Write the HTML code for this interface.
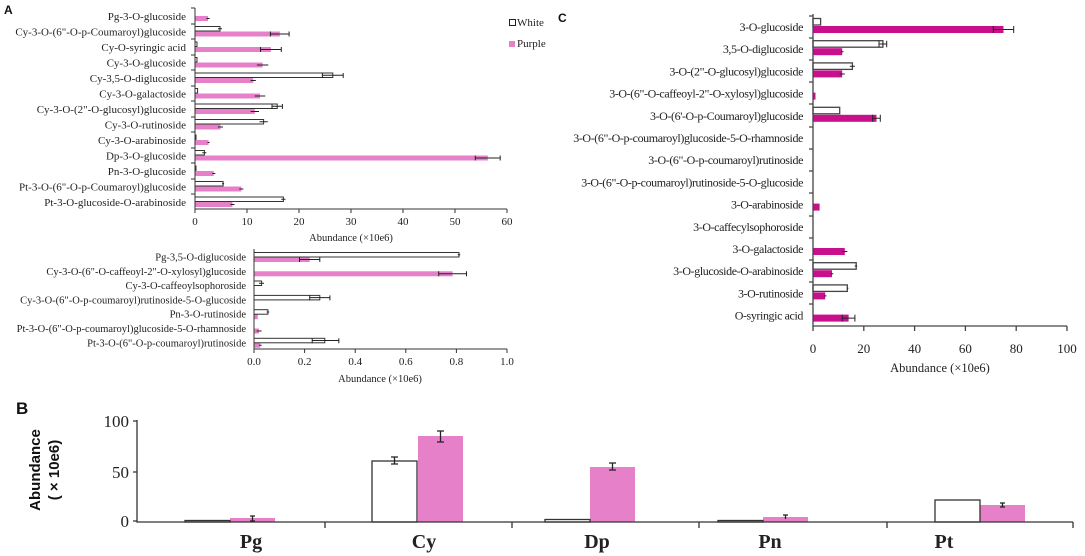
<!DOCTYPE html>
<html><head><meta charset="utf-8"><style>
body{margin:0;background:#fff}
svg{display:block}
.l{font-family:"Liberation Serif",serif;fill:#222}
.s{font-family:"Liberation Sans",sans-serif;font-weight:bold;fill:#111}
</style></head><body>
<svg width="1085" height="556" viewBox="0 0 1085 556" xmlns="http://www.w3.org/2000/svg">
<text x="4" y="14" class="s" font-size="12">A</text>
<g fill="#e680c8">
<rect x="195" y="16" width="13" height="5"/>
<rect x="195" y="31.5" width="84.8" height="5"/>
<rect x="195" y="47" width="75.9" height="5"/>
<rect x="195" y="62.5" width="67.6" height="5"/>
<rect x="195" y="78" width="58.2" height="5"/>
<rect x="195" y="93.5" width="65" height="5"/>
<rect x="195" y="109" width="59.8" height="5"/>
<rect x="195" y="124.5" width="25.5" height="5"/>
<rect x="195" y="140" width="13.5" height="5"/>
<rect x="195" y="155.5" width="292.8" height="5"/>
<rect x="195" y="171" width="18.7" height="5"/>
<rect x="195" y="186.5" width="46.3" height="5"/>
<rect x="195" y="202" width="37.4" height="5"/>
</g>
<g fill="#fff" stroke="#333" stroke-width="1">
<rect x="195" y="26.5" width="25" height="4.5"/>
<rect x="195" y="42" width="2" height="4.5"/>
<rect x="195" y="57.5" width="2" height="4.5"/>
<rect x="195" y="73" width="137.8" height="4.5"/>
<rect x="195" y="88.5" width="2.6" height="4.5"/>
<rect x="195" y="104" width="82.2" height="4.5"/>
<rect x="195" y="119.5" width="68.6" height="4.5"/>
<rect x="195" y="135" width="1" height="4.5"/>
<rect x="195" y="150.5" width="9.4" height="4.5"/>
<rect x="195" y="166" width="1" height="4.5"/>
<rect x="195" y="181.5" width="28.1" height="4.5"/>
<rect x="195" y="197" width="88.4" height="4.5"/>
</g>
<g stroke="#222" stroke-width="1">
<path d="M206.4 18.5H209.6M217.9 28.7H222M270.4 34H289.1M260.5 49.5H281.3M256.9 65H268.3M322.4 75.2H343.2M250.6 80.5H255.8M254.8 96H265.2M272 106.2H282.4M250.6 111.5H259M259.5 121.7H267.8M217.9 127H223M207.5 142.5H209.6M202.3 152.7H206.4M475.3 158H500.2M212.2 173.5H215.3M222 183.7H224.1M239.2 189H243.4M281.3 199.2H285.5M230.4 204.5H234.5"/>
<path d="M270.4 31.5v5M289.1 31.5v5M260.5 47v5M281.3 47v5M322.4 73v5M343.2 73v5M475.3 155.5v5M500.2 155.5v5M272 104v5M282.4 104v5"/>
</g>
<g stroke="#333" fill="none">
<path d="M195 8V209H507"/>
<path d="M191 8H195M191 24H195M191 39H195M191 55H195M191 70H195M191 86H195M191 101H195M191 117H195M191 132H195M191 148H195M191 163H195M191 179H195M191 194H195"/>
<path d="M195 209v4M247 209v4M299 209v4M351 209v4M403 209v4M455 209v4M507 209v4"/>
</g>
<g class="l" font-size="11" text-anchor="end">
<text x="186" y="20">Pg-3-O-glucoside</text>
<text x="186" y="35.5">Cy-3-O-(6"-O-p-Coumaroyl)glucoside</text>
<text x="186" y="51">Cy-O-syringic acid</text>
<text x="186" y="66.5">Cy-3-O-glucoside</text>
<text x="186" y="82">Cy-3,5-O-diglucoside</text>
<text x="186" y="97.5">Cy-3-O-galactoside</text>
<text x="186" y="113">Cy-3-O-(2"-O-glucosyl)glucoside</text>
<text x="186" y="128.5">Cy-3-O-rutinoside</text>
<text x="186" y="144">Cy-3-O-arabinoside</text>
<text x="186" y="159.5">Dp-3-O-glucoside</text>
<text x="186" y="175">Pn-3-O-glucoside</text>
<text x="186" y="190.5">Pt-3-O-(6"-O-p-Coumaroyl)glucoside</text>
<text x="186" y="206">Pt-3-O-glucoside-O-arabinoside</text>
</g>
<g class="l" font-size="11" text-anchor="middle">
<text x="195" y="225">0</text><text x="247" y="225">10</text><text x="299" y="225">20</text><text x="351" y="225">30</text><text x="403" y="225">40</text><text x="455" y="225">50</text><text x="507" y="225">60</text>
</g>
<text x="351" y="241" class="l" font-size="10.5" text-anchor="middle" fill="#555">Abundance (×10e6)</text>
<rect x="509.5" y="19.5" width="6" height="6" fill="#fff" stroke="#222"/>
<text x="517" y="26" class="l" font-size="11">White</text>
<rect x="509" y="41" width="6" height="6" fill="#e680c8"/>
<text x="517" y="47" class="l" font-size="11">Purple</text>

<g fill="#e680c8">
<rect x="254" y="257" width="55.7" height="5"/>
<rect x="254" y="271.3" width="198.6" height="5"/>
<rect x="254" y="314.2" width="3.8" height="5"/>
<rect x="254" y="328.5" width="5" height="5"/>
<rect x="254" y="342.8" width="6.3" height="5"/>
</g>
<g fill="#fff" stroke="#333">
<rect x="254" y="252.5" width="205" height="4.5"/>
<rect x="254" y="281" width="7.6" height="4.5"/>
<rect x="254" y="295.4" width="65.8" height="4.5"/>
<rect x="254" y="309.7" width="13.9" height="4.5"/>
<rect x="254" y="338.3" width="70.8" height="4.5"/>
</g>
<g stroke="#222">
<path d="M457.7 254.7H460.3M299.5 259.5H319.8M438.7 273.8H466.5M259 283.2H264M309.7 297.6H329.9M266.6 312H269.2M256.5 331H261.6M312.2 340.5H338.8M259 345.3H261.6"/>
<path d="M299.5 257v5M319.8 257v5M438.7 271.3v5M466.5 271.3v5M309.7 295.4v5M329.9 295.4v5M312.2 338.3v5M338.8 338.3v5"/>
</g>
<g stroke="#333" fill="none">
<path d="M254 249V349H507"/>
<path d="M254 349v4M304.6 349v4M355.2 349v4M405.8 349v4M456.4 349v4M507 349v4"/>
</g>
<g class="l" font-size="10.5" text-anchor="end">
<text x="246" y="260.5">Pg-3,5-O-diglucoside</text>
<text x="246" y="274.8">Cy-3-O-(6"-O-caffeoyl-2"-O-xylosyl)glucoside</text>
<text x="246" y="289.1">Cy-3-O-caffeoylsophoroside</text>
<text x="246" y="303.4">Cy-3-O-(6"-O-p-coumaroyl)rutinoside-5-O-glucoside</text>
<text x="246" y="317.7">Pn-3-O-rutinoside</text>
<text x="246" y="332">Pt-3-O-(6"-O-p-coumaroyl)glucoside-5-O-rhamnoside</text>
<text x="246" y="346.3">Pt-3-O-(6"-O-p-coumaroyl)rutinoside</text>
</g>
<g class="l" font-size="11" text-anchor="middle">
<text x="254" y="365">0.0</text><text x="304.6" y="365">0.2</text><text x="355.2" y="365">0.4</text><text x="405.8" y="365">0.6</text><text x="456.4" y="365">0.8</text><text x="507" y="365">1.0</text>
</g>
<text x="380" y="382" class="l" font-size="10.5" text-anchor="middle">Abundance (×10e6)</text>

<text x="558" y="22" class="s" font-size="12">C</text>
<g fill="#c8108c">
<rect x="813" y="26" width="190.5" height="7"/>
<rect x="813" y="48.2" width="29.2" height="7"/>
<rect x="813" y="70.4" width="29.2" height="7"/>
<rect x="813" y="92.6" width="2.5" height="7"/>
<rect x="813" y="114.8" width="63.5" height="7"/>
<rect x="813" y="203.6" width="6.6" height="7"/>
<rect x="813" y="248" width="31.8" height="7"/>
<rect x="813" y="270.2" width="19" height="7"/>
<rect x="813" y="292.4" width="12.2" height="7"/>
<rect x="813" y="314.6" width="35.6" height="7"/>
</g>
<g fill="#fff" stroke="#444" stroke-width="1.3">
<rect x="813" y="18.5" width="7.6" height="6.5"/>
<rect x="813" y="40.7" width="69.9" height="6.5"/>
<rect x="813" y="62.9" width="39.4" height="6.5"/>
<rect x="813" y="107.3" width="26.7" height="6.5"/>
<rect x="813" y="262.7" width="43.2" height="6.5"/>
<rect x="813" y="284.9" width="34.3" height="6.5"/>
</g>
<g stroke="#222" stroke-width="1">
<path d="M993.3 29.5H1013.7M879 44H886.7M841 51.7H843.5M849.8 66.2H854.9M839.7 74H844.8M872.7 118.3H880.3M842.2 251.5H847.3M854.7 266H857.2M830.8 273.7H833.3M846.9 288.2H848.4M824 295.9H826.5M842.2 318.1H854.9"/>
<path d="M993.3 26v7M1013.7 26v7M879 40.7v6.5M886.7 40.7v6.5M872.7 114.8v7M880.3 114.8v7M842.2 314.6v7M854.9 314.6v7"/>
</g>
<g stroke="#444" fill="none" stroke-width="1.3">
<path d="M813 14V326H1067"/>
<path d="M809 16H813M809 38H813M809 60H813M809 82H813M809 104H813M809 127H813M809 149H813M809 171H813M809 193H813M809 216H813M809 238H813M809 260H813M809 282H813M809 304H813"/>
<path d="M813 326v5M863.8 326v5M914.6 326v5M965.4 326v5M1016.2 326v5M1067 326v5"/>
</g>
<g class="l" font-size="12" text-anchor="end" letter-spacing="-0.4">
<text x="803" y="31">3-O-glucoside</text>
<text x="803" y="53.2">3,5-O-diglucoside</text>
<text x="803" y="75.4">3-O-(2"-O-glucosyl)glucoside</text>
<text x="803" y="97.6">3-O-(6"-O-caffeoyl-2"-O-xylosyl)glucoside</text>
<text x="803" y="119.8">3-O-(6'-O-p-Coumaroyl)glucoside</text>
<text x="803" y="142">3-O-(6"-O-p-coumaroyl)glucoside-5-O-rhamnoside</text>
<text x="803" y="164.2">3-O-(6"-O-p-coumaroyl)rutinoside</text>
<text x="803" y="186.4">3-O-(6"-O-p-coumaroyl)rutinoside-5-O-glucoside</text>
<text x="803" y="208.6">3-O-arabinoside</text>
<text x="803" y="230.8">3-O-caffecylsophoroside</text>
<text x="803" y="253">3-O-galactoside</text>
<text x="803" y="275.2">3-O-glucoside-O-arabinoside</text>
<text x="803" y="297.4">3-O-rutinoside</text>
<text x="803" y="319.6">O-syringic acid</text>
</g>
<g class="l" font-size="13" text-anchor="middle">
<text x="813" y="353">0</text><text x="863.8" y="353">20</text><text x="914.6" y="353">40</text><text x="965.4" y="353">60</text><text x="1016.2" y="353">80</text><text x="1067" y="353">100</text>
</g>
<text x="940" y="372" class="l" font-size="12.5" text-anchor="middle">Abundance (×10e6)</text>

<text x="16" y="414" class="s" font-size="17">B</text>
<g fill="#e680c8">
<rect x="230" y="518" width="45" height="4"/>
<rect x="418" y="436" width="45" height="86"/>
<rect x="590" y="467" width="45" height="55"/>
<rect x="763" y="517" width="45" height="5"/>
<rect x="980" y="505" width="45" height="17"/>
</g>
<g fill="#fff" stroke="#333" stroke-width="1.3">
<rect x="185" y="520.5" width="45" height="1.5"/>
<rect x="372" y="461" width="45" height="61"/>
<rect x="545" y="519.5" width="45" height="2.5"/>
<rect x="718" y="520.5" width="45" height="1.5"/>
<rect x="935" y="500" width="45" height="22"/>
</g>
<g stroke="#222" stroke-width="1.3">
<path d="M394.5 457V464M391 457H398M391 464H398M440.5 431V442M437 431H444M437 442H444M612.5 463V470M609 463H616M609 470H616M252.5 516V521M250 516H255M250 521H255M785.5 515V519M783 515H788M1002.5 503V507M1000 503H1005M1000 507H1005"/>
</g>
<g stroke="#333" fill="none" stroke-width="1.3">
<path d="M137 420V522H1073"/>
<path d="M133 421H137M133 472H137M133 521H137"/>
<path d="M325 522v6M512 522v6M699 522v6M887 522v6M1073 522v6"/>
</g>
<g class="l" font-size="17" text-anchor="end">
<text x="129" y="427">100</text><text x="129" y="478">50</text><text x="129" y="527">0</text>
</g>
<g class="s" font-size="15" text-anchor="middle">
<text transform="translate(40,470) rotate(-90)">Abundance</text>
<text transform="translate(59,470) rotate(-90)">( × 10e6)</text>
</g>
<g class="l" font-size="20" font-weight="bold" text-anchor="middle">
<text x="251" y="548">Pg</text><text x="424" y="548">Cy</text><text x="597" y="548">Dp</text><text x="770" y="548">Pn</text><text x="944" y="548">Pt</text>
</g>
</svg>
</body></html>
